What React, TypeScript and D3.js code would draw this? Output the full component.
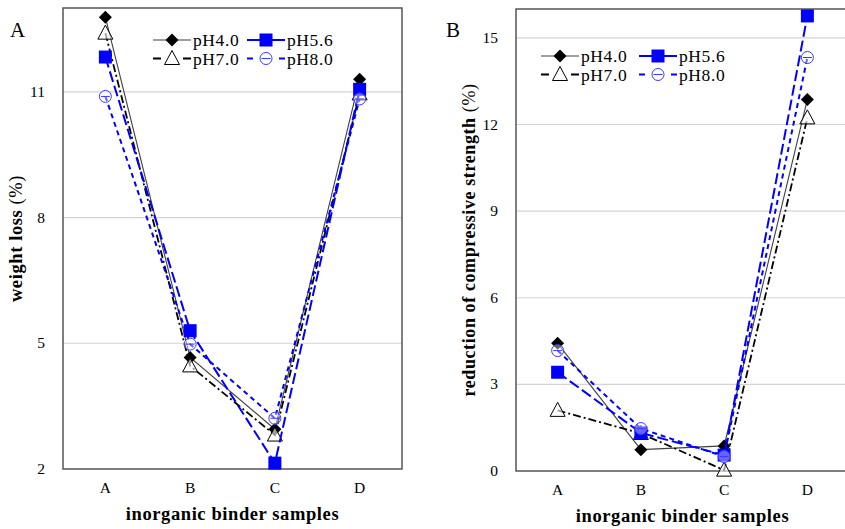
import React from 'react';
import * as d3 from 'd3';

// samples on the x axis
const categories = ['A', 'B', 'C', 'D'];

// weight loss (%) per pH
const lossPH40 = [12.78, 4.66, 2.95, 11.3];
const lossPH56 = [11.83, 5.3, 2.14, 11.06];
const lossPH70 = [12.4, 4.46, 2.81, 10.95];
const lossPH80 = [10.89, 4.98, 3.21, 10.83];

// reduction of compressive strength (%) per pH
const strPH40 = [4.42, 0.74, 0.87, 12.87];
const strPH56 = [3.42, 1.32, 0.55, 15.76];
const strPH70 = [2.1, 1.3, 0.03, 12.23];
const strPH80 = [4.17, 1.47, 0.5, 14.32];

const lossTicks = [2, 5, 8, 11];
const strTicks = [0, 3, 6, 9, 12, 15];

const FONT = '"Liberation Serif", "Times New Roman", serif';

type SeriesStyle = {
  name: string;
  stroke: string;
  width: number;
  dash: string;
  legendDash: string;
  marker: 'diamond' | 'square' | 'triangle' | 'circle';
};

const styles: Record<string, SeriesStyle> = {
  ph40: { name: 'pH4.0', stroke: '#404040', width: 1.1, dash: '', legendDash: '', marker: 'diamond' },
  ph56: { name: 'pH5.6', stroke: '#0000ff', width: 2, dash: '11,4', legendDash: '', marker: 'square' },
  ph70: { name: 'pH7.0', stroke: '#000000', width: 1.8, dash: '8,3,2,3', legendDash: '8,22,8', marker: 'triangle' },
  ph80: { name: 'pH8.0', stroke: '#0000ff', width: 2, dash: '5,4', legendDash: '6,26,6', marker: 'circle' },
};

function Marker({ kind, x, y }: { kind: string; x: number; y: number }) {
  if (kind === 'diamond') {
    const s = 6.5;
    return <path d={`M${x},${y - s}L${x + s},${y}L${x},${y + s}L${x - s},${y}Z`} fill="#000" />;
  }
  if (kind === 'square') {
    return <rect x={x - 6.5} y={y - 6.5} width={13} height={13} fill="#0000ff" />;
  }
  if (kind === 'triangle') {
    return (
      <path
        d={`M${x},${y - 8}L${x + 7.5},${y + 6}L${x - 7.5},${y + 6}Z`}
        fill="#fff"
        fillOpacity={0.6}
        stroke="#000"
        strokeWidth={1}
      />
    );
  }
  return (
    <g stroke="#3a3aff" strokeWidth={1} fill="none">
      <circle cx={x} cy={y} r={6} fill="#fff" fillOpacity={0.4} />
      <line x1={x - 4.5} x2={x + 4.5} y1={y} y2={y} />
    </g>
  );
}

function Legend({ x, y, colGap }: { x: number; y: number; colGap: number }) {
  const items = [
    [styles.ph40, 0, 0],
    [styles.ph56, 1, 0],
    [styles.ph70, 0, 1],
    [styles.ph80, 1, 1],
  ] as [SeriesStyle, number, number][];
  return (
    <g>
      {items.map(([s, c, r]) => {
        const lx = x + c * colGap;
        const ly = y + r * 18.5;
        return (
          <g key={s.name}>
            <line
              x1={lx}
              x2={lx + 38}
              y1={ly}
              y2={ly}
              stroke={s.stroke}
              strokeWidth={s.width}
              strokeDasharray={s.legendDash}
            />
            <Marker kind={s.marker} x={lx + 19} y={ly} />
            <text x={lx + 40} y={ly + 6} fontSize={17.5} letterSpacing={0.6} fontFamily={FONT} fill="#000">
              {s.name}
            </text>
          </g>
        );
      })}
    </g>
  );
}

function Panel(props: {
  left: number;
  right: number;
  top: number;
  bottom: number;
  domain: [number, number];
  ticks: number[];
  data: { key: string; values: number[] }[];
  yLabel: string;
  yLabelX: number;
  yLabelSize: number;
  letter: string;
  letterX: number;
  legendX: number;
  legendY: number;
  legendGap: number;
}) {
  const { left, right, top, bottom } = props;
  const x = d3.scalePoint<string>().domain(categories).range([left, right]).padding(0.5);
  const y = d3.scaleLinear().domain(props.domain).range([bottom, top]);
  const line = d3
    .line<number>()
    .x((_, i) => x(categories[i]) as number)
    .y((d) => y(d));
  const midY = (top + bottom) / 2;
  const midX = (left + right) / 2;

  return (
    <g>
      {props.ticks.map((t) => (
        <g key={t}>
          {t !== props.domain[0] && (
            <line x1={left} x2={right} y1={y(t)} y2={y(t)} stroke="#d4d4d4" strokeWidth={1.2} />
          )}
          <text
            x={left - 18}
            y={y(t) + 5}
            textAnchor="end"
            fontSize={15.5}
            fontFamily={FONT}
            fill="#000"
          >
            {t}
          </text>
        </g>
      ))}
      <rect
        x={left}
        y={top}
        width={right - left}
        height={bottom - top}
        fill="none"
        stroke="#555"
        strokeWidth={1.5}
      />
      {categories.map((c) => (
        <text
          key={c}
          x={x(c)}
          y={bottom + 24}
          textAnchor="middle"
          fontSize={15.5}
          fontFamily={FONT}
          fill="#000"
        >
          {c}
        </text>
      ))}
      <text
        x={midX}
        y={bottom + 51}
        textAnchor="middle"
        fontSize={18.5}
        letterSpacing={0.6}
        fontWeight="bold"
        fontFamily={FONT}
        fill="#000"
      >
        inorganic binder samples
      </text>
      <text
        transform={`translate(${props.yLabelX},${midY}) rotate(-90)`}
        textAnchor="middle"
        fontSize={props.yLabelSize}
        letterSpacing={0.6}
        fontFamily={FONT}
        fill="#000"
      >
        <tspan fontWeight="bold">{props.yLabel}</tspan>
        <tspan> (%)</tspan>
      </text>
      <text x={props.letterX} y={37} fontSize={21} fontFamily={FONT} fill="#000">
        {props.letter}
      </text>
      <Legend x={props.legendX} y={props.legendY} colGap={props.legendGap} />
      {props.data.map((d) => {
        const s = styles[d.key];
        return (
          <g key={d.key}>
            <path
              d={line(d.values) || ''}
              fill="none"
              stroke={s.stroke}
              strokeWidth={s.width}
              strokeDasharray={s.dash}
            />
            {d.values.map((v, i) => (
              <Marker key={i} kind={s.marker} x={x(categories[i]) as number} y={y(v)} />
            ))}
          </g>
        );
      })}
    </g>
  );
}

export default function App() {
  return (
    <svg
      width={845}
      height={529}
      style={{ position: 'absolute', left: 0, top: 0, background: '#fff' }}
    >
      <Panel
        left={63}
        right={402}
        top={8}
        bottom={469}
        domain={[2, 13]}
        ticks={lossTicks}
        data={[
          { key: 'ph40', values: lossPH40 },
          { key: 'ph70', values: lossPH70 },
          { key: 'ph56', values: lossPH56 },
          { key: 'ph80', values: lossPH80 },
        ]}
        yLabel="weight loss"
        yLabelX={22}
        yLabelSize={18.5}
        letter="A"
        letterX={10}
        legendX={153}
        legendY={40}
        legendGap={94}
      />
      <Panel
        left={516}
        right={849}
        top={9}
        bottom={471}
        domain={[0, 16]}
        ticks={strTicks}
        data={[
          { key: 'ph40', values: strPH40 },
          { key: 'ph70', values: strPH70 },
          { key: 'ph56', values: strPH56 },
          { key: 'ph80', values: strPH80 },
        ]}
        yLabel="reduction of compressive strength"
        yLabelX={475}
        yLabelSize={18}
        letter="B"
        letterX={446}
        legendX={541}
        legendY={56}
        legendGap={98}
      />
    </svg>
  );
}
